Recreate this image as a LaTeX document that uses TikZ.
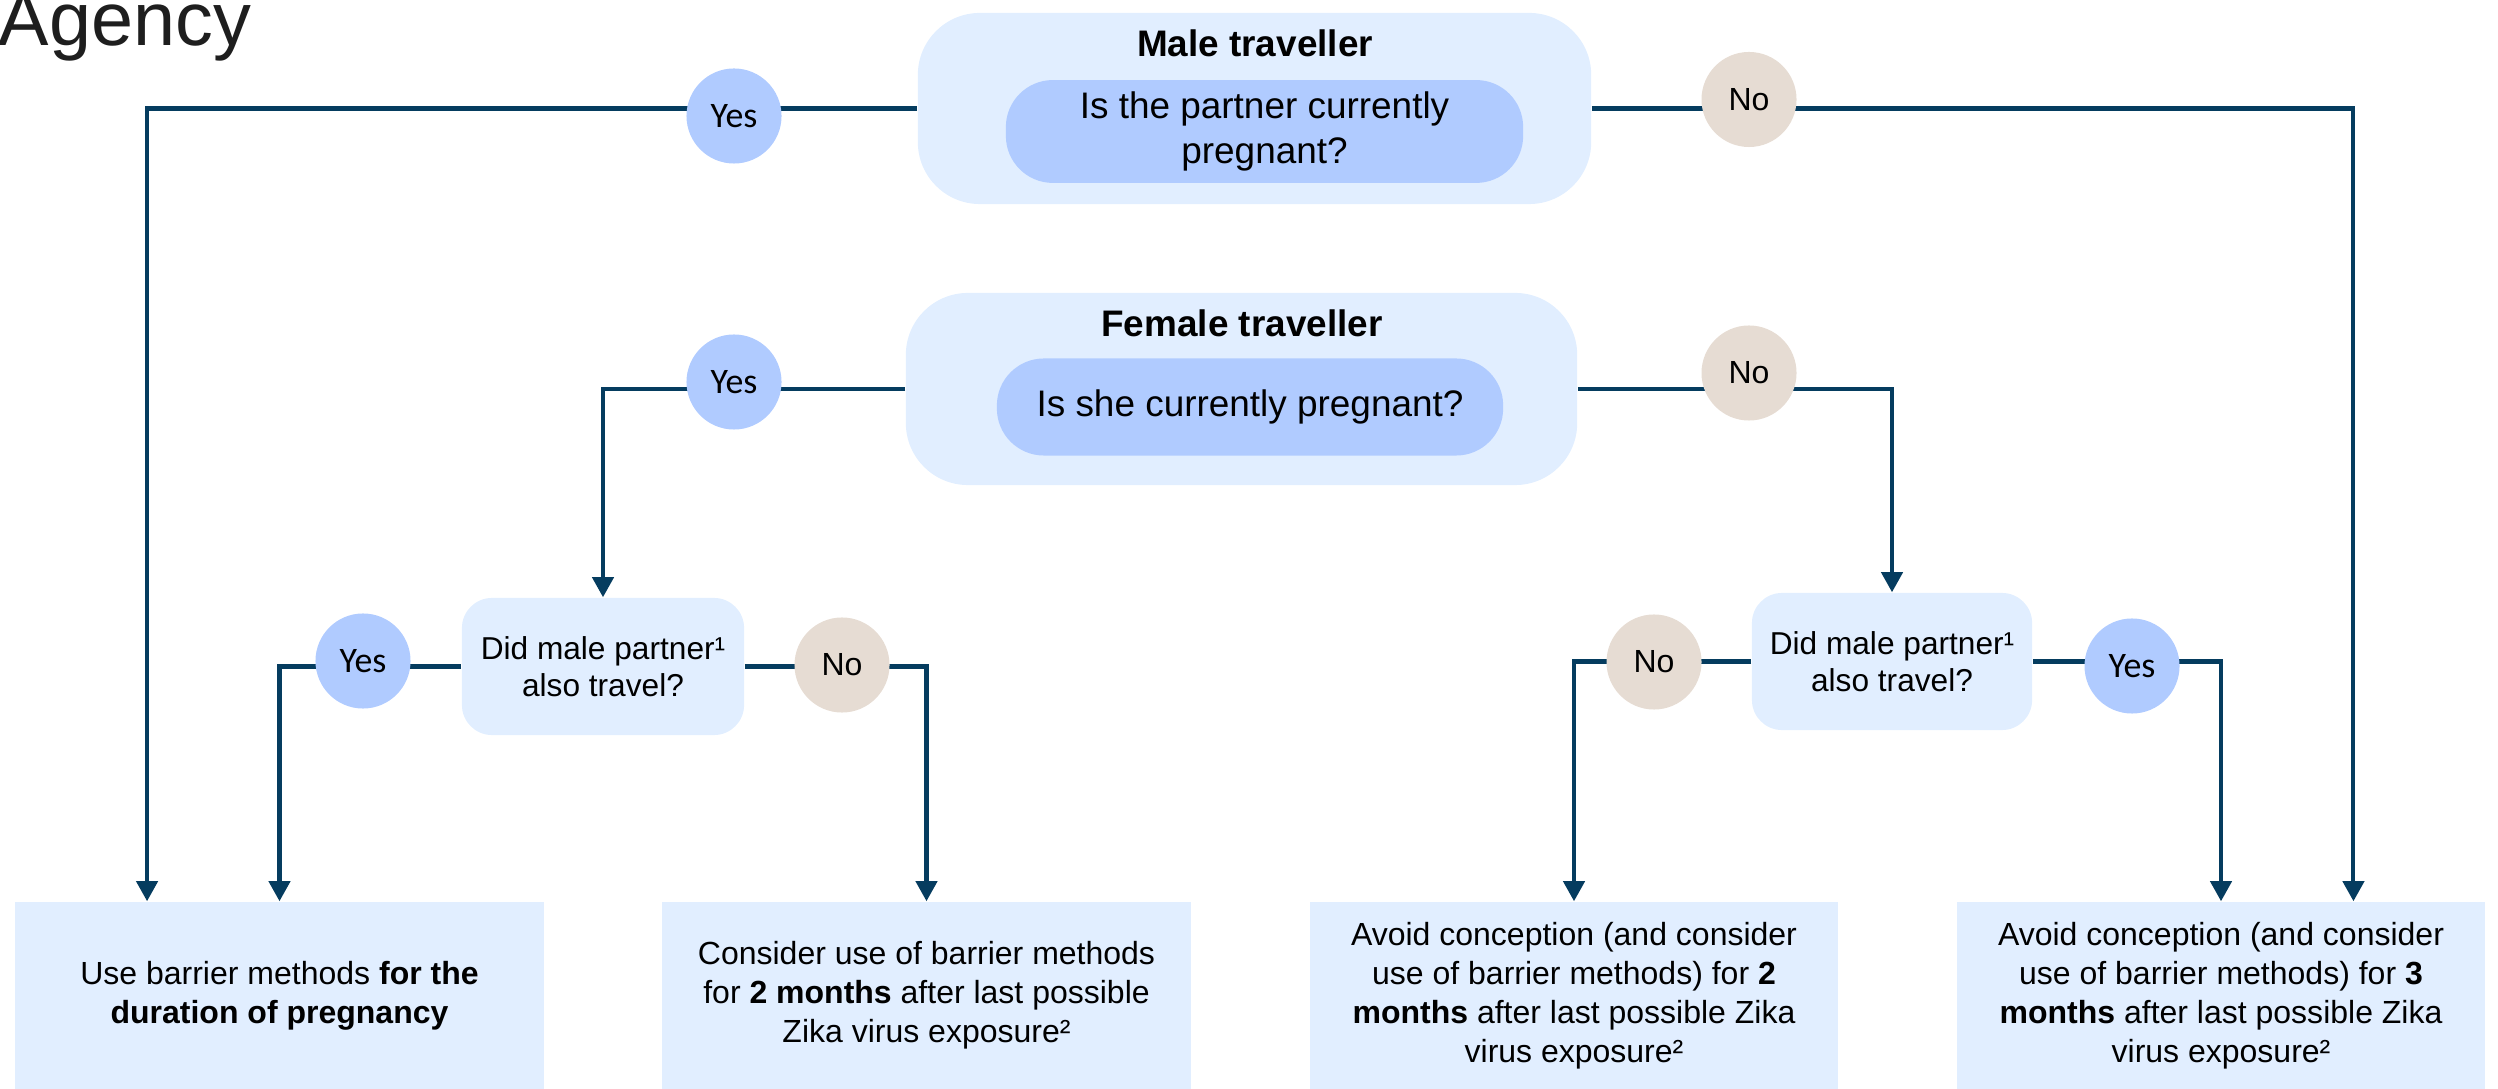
\documentclass[tikz,border=0pt]{standalone}
\usepackage{fontspec}
\setmainfont{Liberation Sans}
\newfontfamily\calfont{Carlito}
\usetikzlibrary{arrows.meta,calc}
\definecolor{paleblue}{HTML}{E1EEFF}
\definecolor{midblue}{HTML}{B0CBFF}
\definecolor{beige}{HTML}{E6DCD3}
\definecolor{navy}{HTML}{053C5F}
\definecolor{agencygrey}{HTML}{1E1E1E}
\begin{document}
\begin{tikzpicture}[x=0.01cm,y=-0.01cm,
    outerbox/.style={fill=paleblue,rounded corners=0.62cm},
    pill/.style={fill=midblue,rounded corners=0.47cm,minimum height=0.97cm,align=center,
      font=\fontsize{10.5}{12.8}\selectfont},
    traveller/.style={anchor=base,inner sep=0pt,font=\bfseries\fontsize{10.5}{12.8}\selectfont},
    query/.style={fill=paleblue,rounded corners=0.3cm,minimum height=1.37cm,align=center,
      font=\fontsize{9}{10.5}\selectfont},
    result/.style={fill=paleblue,minimum width=5.28cm,minimum height=1.87cm,align=center,
      font=\fontsize{9.1}{11.1}\selectfont},
    yes/.style={circle,fill=midblue,minimum size=0.95cm,inner sep=0pt,
      font=\calfont\fontsize{10.2}{12}\selectfont},
    no/.style={circle,fill=beige,minimum size=0.95cm,inner sep=0pt,
      font=\fontsize{9.1}{11}\selectfont},
    link/.style={draw=navy,line width=1.15pt,-{Triangle[width=0.21cm,length=0.2cm]}}]
  \useasboundingbox (0,0) rectangle (2498,1089);
  \node[anchor=base west,inner sep=0pt,text=agencygrey,font=\fontsize{21.5}{25}\selectfont] (agency) at (-2,46) {Agency};
  % question boxes
  \node[outerbox,minimum width=6.73cm,minimum height=1.91cm] (male) at (1254.5,108.5) {};
  \node[traveller] (maletitle) at (1255,57) {Male traveller};
  \node[pill,minimum width=5.17cm] (malepill) at (1264.5,131.5) {Is the partner currently\\pregnant?};
  \node[outerbox,minimum width=6.71cm,minimum height=1.92cm] (female) at (1241.5,389) {};
  \node[traveller] (femaletitle) at (1242,337) {Female traveller};
  \node[pill,minimum width=5.06cm] (femalepill) at (1250,407) {Is she currently pregnant?};
  \node[query,minimum width=2.82cm] (dmpL) at (603,666.5) {Did male partner¹\\also travel?};
  \node[query,minimum width=2.80cm] (dmpR) at (1892,661.5) {Did male partner¹\\also travel?};
  % advice boxes
  \node[result] (res1) at (279.5,995.5) {Use barrier methods \textbf{for the}\\\textbf{duration of pregnancy}};
  \node[result] (res2) at (926.5,995.5) {Consider use of barrier methods\\for \textbf{2 months} after last possible\\Zika virus exposure²};
  \node[result] (res3) at (1574,995.5) {Avoid conception (and consider\\use of barrier methods) for \textbf{2}\\\textbf{months} after last possible Zika\\virus exposure²};
  \node[result] (res4) at (2221,995.5) {Avoid conception (and consider\\use of barrier methods) for \textbf{3}\\\textbf{months} after last possible Zika\\virus exposure²};
  % connectors
  \draw[link] (male.west) -| ($(res1.north west)!0.25!(res1.north east)$);
  \draw[link] (male.east) -| ($(res4.north west)!0.75!(res4.north east)$);
  \draw[link] (female.west) -| (dmpL.north);
  \draw[link] (female.east) -| (dmpR.north);
  \draw[link] (dmpL.west) -| (res1.north);
  \draw[link] (dmpL.east) -| (res2.north);
  \draw[link] (dmpR.west) -| (res3.north);
  \draw[link] (dmpR.east) -| (res4.north);
  % answers
  \node[yes] (yesM) at (734,116) {Yes};
  \node[no] (noM) at (1749,99.5) {No};
  \node[yes] (yesF) at (734,382) {Yes};
  \node[no] (noF) at (1749,373) {No};
  \node[yes] (yesL) at (363,661) {Yes};
  \node[no] (noL) at (842,665) {No};
  \node[no] (noR) at (1654,662) {No};
  \node[yes] (yesR) at (2132,666) {Yes};
\end{tikzpicture}
\end{document}
